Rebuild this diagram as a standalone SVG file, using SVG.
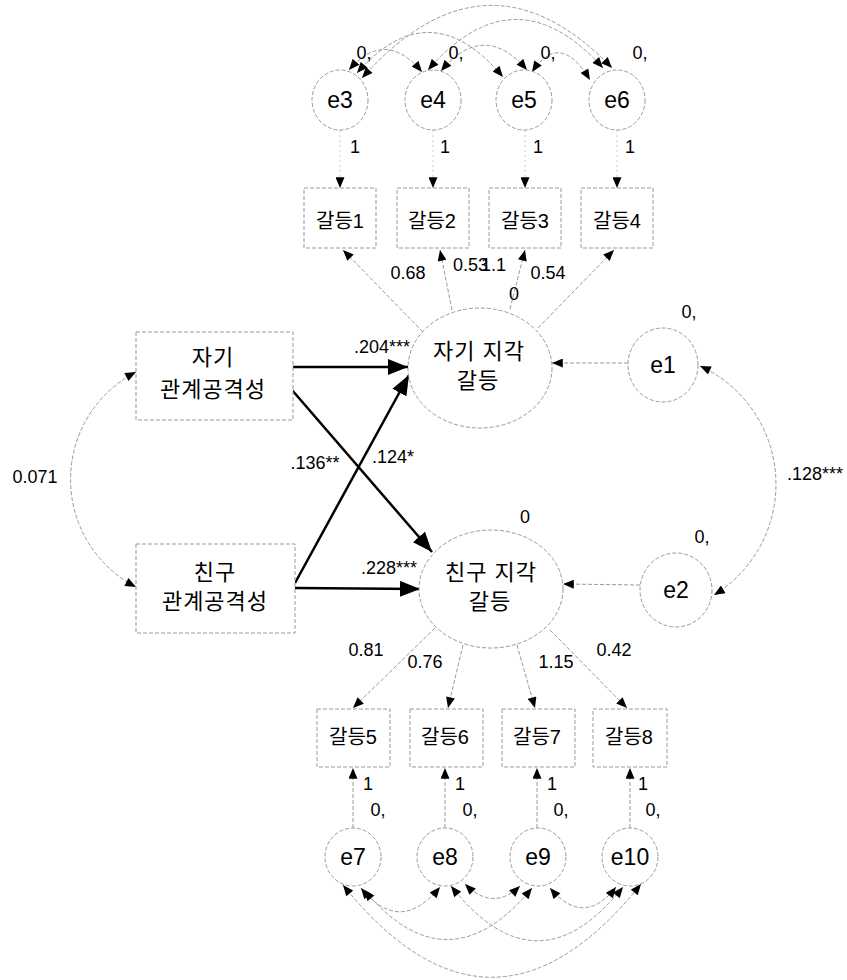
<svg xmlns="http://www.w3.org/2000/svg" width="847" height="980" viewBox="0 0 847 980">
  <defs>
    <marker id="ah" viewBox="0 0 12 10" refX="12" refY="5" markerWidth="12" markerHeight="9" markerUnits="userSpaceOnUse" orient="auto-start-reverse">
      <path d="M0,0 L12,5 L0,10 z" fill="#000"/>
    </marker>
    <marker id="ahb" viewBox="0 0 20 16" refX="20" refY="8" markerWidth="20" markerHeight="16" markerUnits="userSpaceOnUse" orient="auto">
      <path d="M0,0 L20,8 L0,16 z" fill="#000"/>
    </marker>
    <style>
      .outline { fill: #fff; stroke: #999; stroke-width: 1; stroke-dasharray: 4 2; }
      .thin { fill: none; stroke: #999; stroke-width: 1; stroke-dasharray: 4 2; marker-end: url(#ah); }
      .both { fill: none; stroke: #999; stroke-width: 1; stroke-dasharray: 4 2; marker-start: url(#ah); marker-end: url(#ah); }
      .faint { fill: none; stroke: #ccc; stroke-width: 1; stroke-dasharray: 2 3; marker-end: url(#ah); }
      .thick { fill: none; stroke: #000; stroke-width: 2.5; marker-end: url(#ahb); }
      text { font-family: "Liberation Sans", "Noto Sans CJK KR", sans-serif; fill: #000; }
      .num { font-size: 18px; }
      .ev { font-size: 23px; text-anchor: middle; }
      .ko { font-size: 22px; text-anchor: middle; letter-spacing: 1px; }
      .ind { font-size: 20px; text-anchor: middle; }
      .mid { text-anchor: middle; }
    </style>
  </defs>

  <!-- connectors -->
  <g id="connectors">
    <!-- error terms into upper indicators -->
    <line class="faint" x1="340" y1="130" x2="340" y2="188"/>
    <line class="faint" x1="433" y1="130" x2="433" y2="188"/>
    <line class="faint" x1="525" y1="130" x2="525" y2="188"/>
    <line class="faint" x1="617" y1="130" x2="617" y2="188"/>

    <!-- covariances among e3..e6 -->
    <path class="both" d="M349,70 Q385,28 422,72"/>
    <path class="both" d="M357,73 Q430,-10 503,77"/>
    <path class="both" d="M362,78 Q487,-62 612,68"/>
    <path class="both" d="M441,71 Q484,20 527,70"/>
    <path class="both" d="M428,70 Q515,-30 603,68"/>
    <path class="both" d="M532,72 Q560,30 590,80"/>

    <!-- loadings of the self-perceived conflict factor -->
    <line class="thin" x1="423" y1="332" x2="343" y2="250"/>
    <line class="thin" x1="452" y1="310" x2="440" y2="250"/>
    <line class="thin" x1="510" y1="309" x2="525" y2="250"/>
    <line class="thin" x1="538" y1="328" x2="614" y2="250"/>

    <!-- structural paths -->
    <line class="thick" x1="293" y1="367" x2="408" y2="367"/>
    <line class="thick" x1="292" y1="390" x2="432" y2="552"/>
    <line class="thick" x1="295" y1="583" x2="409" y2="375"/>
    <line class="thick" x1="295" y1="588" x2="420" y2="589"/>

    <!-- exogenous covariance -->
    <path class="both" d="M136,372 A121,121 0 0 0 136,587"/>

    <!-- disturbances -->
    <line class="thin" x1="628" y1="363" x2="552" y2="363"/>
    <line class="thin" x1="640" y1="585" x2="563" y2="584"/>
    <path class="both" d="M700,366 A130,130 0 0 1 714,595"/>

    <!-- loadings of the friend-perceived conflict factor -->
    <line class="thin" x1="435" y1="628" x2="353" y2="708"/>
    <line class="thin" x1="463" y1="645" x2="448" y2="708"/>
    <line class="thin" x1="517" y1="645" x2="535" y2="708"/>
    <line class="thin" x1="550" y1="630" x2="627" y2="708"/>

    <!-- error terms into lower indicators -->
    <line class="thin" x1="353" y1="828" x2="353" y2="768"/>
    <line class="thin" x1="445" y1="828" x2="445" y2="768"/>
    <line class="thin" x1="537" y1="828" x2="537" y2="768"/>
    <line class="thin" x1="630" y1="828" x2="630" y2="768"/>

    <!-- covariances among e7..e10 -->
    <path class="both" d="M361,888 Q400,936 440,887"/>
    <path class="both" d="M465,884 Q493,912 520,886"/>
    <path class="both" d="M550,888 Q584,928 616,887"/>
    <path class="both" d="M364,890 Q448,990 532,888"/>
    <path class="both" d="M451,886 Q537,995 623,887"/>
    <path class="both" d="M343,885 Q492,1070 641,884"/>
  </g>

  <!-- upper error terms -->
  <g id="e3"><ellipse class="outline" cx="340" cy="100" rx="28" ry="30"/><text class="ev" x="340" y="108">e3</text><text class="num mid" x="364" y="59">0,</text><text class="num mid" x="355" y="153">1</text></g>
  <g id="e4"><ellipse class="outline" cx="433" cy="100" rx="28" ry="30"/><text class="ev" x="433" y="108">e4</text><text class="num mid" x="456" y="59">0,</text><text class="num mid" x="445" y="153">1</text></g>
  <g id="e5"><ellipse class="outline" cx="524" cy="100" rx="28" ry="30"/><text class="ev" x="524" y="108">e5</text><text class="num mid" x="548" y="59">0,</text><text class="num mid" x="538" y="153">1</text></g>
  <g id="e6"><ellipse class="outline" cx="617" cy="100" rx="28" ry="30"/><text class="ev" x="617" y="108">e6</text><text class="num mid" x="640" y="59">0,</text><text class="num mid" x="630" y="153">1</text></g>

  <!-- upper indicators -->
  <g id="conflict1"><rect class="outline" x="304" y="188" width="72" height="60"/><text class="ind" x="340" y="228">갈등1</text></g>
  <g id="conflict2"><rect class="outline" x="397" y="188" width="72" height="60"/><text class="ind" x="432" y="228">갈등2</text></g>
  <g id="conflict3"><rect class="outline" x="489" y="188" width="72" height="60"/><text class="ind" x="525" y="228">갈등3</text></g>
  <g id="conflict4"><rect class="outline" x="581" y="188" width="72" height="60"/><text class="ind" x="617" y="228">갈등4</text></g>

  <!-- loading values, upper factor -->
  <g id="loadings-self">
    <text class="num mid" x="408" y="279">0.68</text>
    <text class="num" x="453" y="271">0.53</text>
    <text class="num" x="481" y="271">1.1</text>
    <text class="num mid" x="548" y="279">0.54</text>
    <text class="num mid" x="514" y="300">0</text>
  </g>

  <!-- latent factors -->
  <g id="self-conflict"><ellipse class="outline" cx="480" cy="368" rx="72" ry="60"/><text class="ko" x="479" y="359">자기 지각</text><text class="ko" x="478" y="388">갈등</text></g>
  <g id="friend-conflict"><ellipse class="outline" cx="491" cy="589" rx="72" ry="59"/><text class="ko" x="491" y="580">친구 지각</text><text class="ko" x="490" y="609">갈등</text><text class="num mid" x="525" y="523">0</text></g>

  <!-- exogenous variables -->
  <g id="self-aggression"><rect class="outline" x="136" y="332" width="157" height="88"/><text class="ko" x="213" y="365">자기</text><text class="ko" x="213" y="397">관계공격성</text></g>
  <g id="friend-aggression"><rect class="outline" x="136" y="544" width="159" height="89"/><text class="ko" x="215" y="580">친구</text><text class="ko" x="215" y="609">관계공격성</text></g>

  <!-- path coefficients -->
  <g id="coefficients">
    <text class="num mid" x="382" y="353">.204***</text>
    <text class="num mid" x="315" y="469">.136**</text>
    <text class="num mid" x="393" y="463">.124*</text>
    <text class="num mid" x="389" y="574">.228***</text>
    <text class="num mid" x="35" y="483">0.071</text>
    <text class="num" x="787" y="480">.128***</text>
  </g>

  <!-- disturbances -->
  <g id="e1"><ellipse class="outline" cx="663" cy="365" rx="35" ry="37"/><text class="ev" x="663" y="373">e1</text><text class="num mid" x="689" y="318">0,</text></g>
  <g id="e2"><ellipse class="outline" cx="676" cy="590" rx="36" ry="37"/><text class="ev" x="676" y="598">e2</text><text class="num mid" x="702" y="543">0,</text></g>

  <!-- loading values, lower factor -->
  <g id="loadings-friend">
    <text class="num mid" x="366" y="656">0.81</text>
    <text class="num mid" x="425" y="668">0.76</text>
    <text class="num mid" x="556" y="668">1.15</text>
    <text class="num mid" x="614" y="656">0.42</text>
  </g>

  <!-- lower indicators -->
  <g id="conflict5"><rect class="outline" x="317" y="709" width="73" height="58"/><text class="ind" x="353" y="744">갈등5</text></g>
  <g id="conflict6"><rect class="outline" x="410" y="709" width="73" height="58"/><text class="ind" x="445" y="744">갈등6</text></g>
  <g id="conflict7"><rect class="outline" x="502" y="709" width="73" height="58"/><text class="ind" x="537" y="744">갈등7</text></g>
  <g id="conflict8"><rect class="outline" x="593" y="709" width="74" height="58"/><text class="ind" x="629" y="744">갈등8</text></g>

  <!-- lower error terms -->
  <g id="e7"><ellipse class="outline" cx="353" cy="857" rx="28" ry="29"/><text class="ev" x="353" y="865">e7</text><text class="num mid" x="378" y="816">0,</text><text class="num mid" x="368" y="790">1</text></g>
  <g id="e8"><ellipse class="outline" cx="445" cy="857" rx="28" ry="29"/><text class="ev" x="445" y="865">e8</text><text class="num mid" x="470" y="816">0,</text><text class="num mid" x="460" y="790">1</text></g>
  <g id="e9"><ellipse class="outline" cx="538" cy="857" rx="28" ry="29"/><text class="ev" x="538" y="865">e9</text><text class="num mid" x="561" y="816">0,</text><text class="num mid" x="552" y="790">1</text></g>
  <g id="e10"><ellipse class="outline" cx="630" cy="857" rx="28" ry="29"/><text class="ev" x="630" y="865">e10</text><text class="num mid" x="653" y="816">0,</text><text class="num mid" x="643" y="790">1</text></g>
</svg>
